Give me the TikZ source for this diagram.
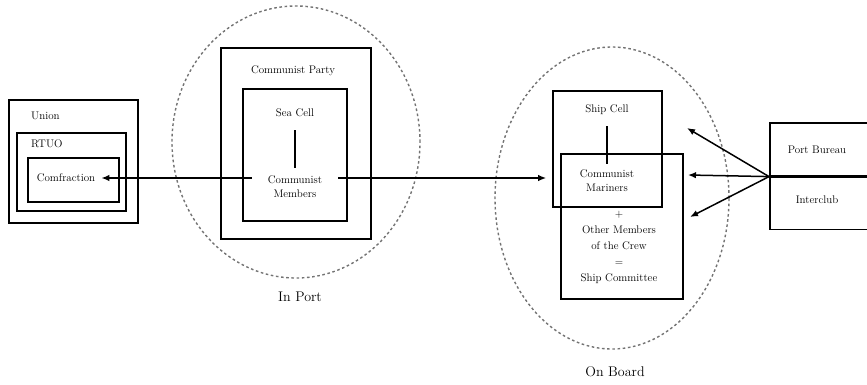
\documentclass[tikz,border=0pt]{standalone}
\usetikzlibrary{positioning,arrows.meta,shapes.geometric}
\begin{document}
\begin{tikzpicture}[
  x=1pt, y=-1pt,
  font=\fontsize{11}{14}\selectfont,
  fl/.style   = {-{Latex[length=8pt,width=6.5pt]}, line width=1.5pt},
  box/.style  = {draw, line width=1.6pt, inner sep=0pt},
  zone/.style = {draw=black!55, ellipse, inner sep=0pt,
                 dash pattern=on 2.6pt off 2.6pt, line width=1.4pt},
  txt/.style  = {inner sep=1pt, align=center},
  zlbl/.style = {font=\fontsize{14}{16}\selectfont},
]
\useasboundingbox (0,0) rectangle (867,384);

% ================= zones ===============================================
\node[zone, minimum width=248pt, minimum height=272pt] (inport)  at (296,142) {};
\node[zone, minimum width=234pt, minimum height=302pt] (onboard) at (612,198) {};
\node[zlbl] (inportlbl)  at (300,297) {In Port};
\node[zlbl] (onboardlbl) at (615,372) {On Board};

% ================= union ===============================================
\node[box, minimum width=129pt, minimum height=123pt] (union) at (73.5,161.5) {};
\node[box, minimum width=109pt, minimum height=78pt]  (rtuo)  at (71.5,172) {};
\node[box, minimum width=91pt,  minimum height=44pt]  (comf)  at (73.5,180) {};
\node[txt, anchor=west] (uniontxt) at (30,116) {Union};
\node[txt, anchor=west] (rtuotxt)  at (30,144) {RTUO};
\node[txt, inner xsep=6pt] (comftxt) at (66,178) {Comfraction};

% ================= party ===============================================
\node[box, minimum width=150pt, minimum height=191pt] (party)   at (296,143.5) {};
\node[box, minimum width=104pt, minimum height=132pt] (seacell) at (295,155) {};
\node[txt] (partytxt) at (293,71)  {Communist Party};
\node[txt] (seatxt)   at (295,113) {Sea Cell};
\node[txt, inner xsep=16pt] (memtxt) at (295,187) {Communist\\Members};

% ================= ship ================================================
\node[box, minimum width=109pt, minimum height=116pt] (shipcell) at (607.5,149) {};
\node[box, minimum width=122pt, minimum height=145pt] (shipcomm) at (622,226.5) {};
\node[txt] (shiptxt) at (607,110) {Ship Cell};
\node[txt] (martxt)  at (607,181) {Communist\\Mariners};
\node[txt, font=\fontsize{11}{16}\selectfont] (crewtxt) at (619,247)
  {+\\Other Members\\of the Crew\\=\\Ship Committee};

% ================= port ================================================
\node[box, minimum width=101pt, minimum height=53pt, anchor=north west] (pbureau) at (769,122) {};
\node[box, minimum width=101pt, minimum height=52pt, anchor=north west] (iclub)   at (pbureau.south west) {};
\node[txt] (pbureautxt) at (817,150) {Port Bureau};
\node[txt] (iclubtxt)   at (817,200) {Interclub};

% ================= edges ===============================================
\draw[line width=1.1pt, shorten <=12pt, shorten >=7pt] (seatxt) -- (memtxt);
\draw[line width=1.1pt, shorten <=10pt, shorten >=5pt] (shiptxt) -- (martxt);

\coordinate (lnkl) at ([yshift=9pt]memtxt.west);
\coordinate (lnkr) at ([yshift=9pt]memtxt.east);
\draw[fl] (lnkl) -- (lnkl -| comftxt.east);
\draw[fl, shorten >=6pt] (lnkr) -- (lnkr -| shipcell.west);

\coordinate (hub)   at (pbureau.south west);
\coordinate (tgtup) at (687,128);
\coordinate (tgtmd) at (688,175);
\coordinate (tgtdn) at (690,217);
\foreach \t in {tgtup,tgtmd,tgtdn} {\draw[fl] (hub) -- (\t);}

\end{tikzpicture}
\end{document}
